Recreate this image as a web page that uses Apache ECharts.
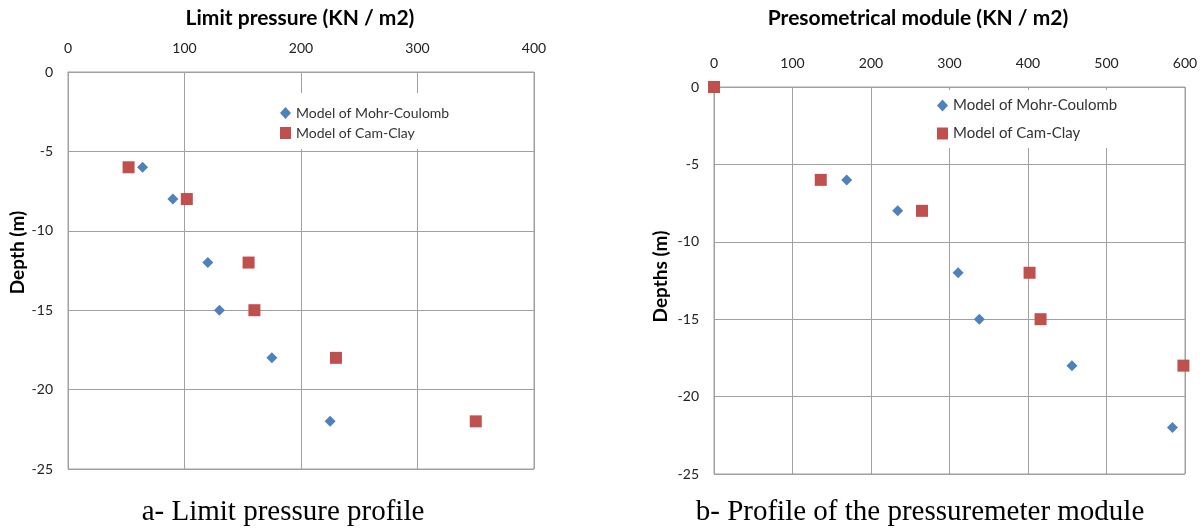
<!DOCTYPE html>
<html>
<head>
<meta charset="utf-8">
<script src="https://cdn.jsdelivr.net/npm/echarts@6/dist/echarts.min.js"></script>
<style>
  html, body { margin: 0; padding: 0; background: #fff; }
  #chart { width: 1203px; height: 529px; }
</style>
</head>
<body>
<div id="chart"></div>
<script>
  // depths (m) and values
  const depthsMohr = [-6, -8, -12, -15, -18, -22]
  const limitMohr = [64, 90, 120, 130, 175, 225]
  const depthsCamLimit = [-6, -8, -12, -15, -18, -22]
  const limitCam = [52, 102, 155, 160, 230, 350]

  const moduleMohr = [169, 234, 311, 338, 456, 584]
  const depthsCamModule = [0, -6, -8, -12, -15, -18]
  const moduleCam = [0, 136, 265, 402, 416, 598]

  const seriesNames = ['Model of Mohr-Coulomb', 'Model of Cam-Clay']
  const titles = ['Limit pressure (KN / m2)', 'Presometrical module (KN / m2)']
  const captions = ['a- Limit pressure profile', 'b- Profile of the pressuremeter module']
  const yNames = ['Depth (m)', 'Depths (m)']

  const blue = '#4f81bd'
  const red = '#c0504d'
  const gridColor = '#a0a0a0'
  const font = 'Lato, "Open Sans", sans-serif'

  function pairs(xs, ys) {
    return xs.map((x, i) => [x, ys[i]])
  }

  function xAxis(idx, max) {
    return {
      gridIndex: idx, type: 'value', position: 'top', min: 0, max: max, interval: 100,
      axisLine: { show: true, lineStyle: { color: gridColor } },
      axisTick: { show: true, inside: true, length: 5, lineStyle: { color: gridColor } },
      axisLabel: { color: '#222', fontFamily: font, fontSize: 14, lineHeight: 14, margin: 17 },
      splitLine: { show: true, lineStyle: { color: gridColor } }
    }
  }

  function yAxis(idx, name, gap, pad) {
    return {
      gridIndex: idx, type: 'value', min: -25, max: 0, interval: 5,
      name: name, nameLocation: 'middle', nameRotate: 90, nameGap: gap,
      nameTextStyle: { color: '#000', fontFamily: font, fontWeight: 'bold', fontSize: 19, padding: pad },
      axisLine: { show: true, lineStyle: { color: gridColor } },
      axisTick: { show: false },
      axisLabel: { color: '#222', fontFamily: font, fontSize: 14, margin: 15 },
      splitLine: { show: true, lineStyle: { color: gridColor } }
    }
  }

  function legend(idx, left, top, gap, pad, size) {
    return {
      orient: 'vertical', left: left, top: top, itemGap: gap, padding: pad,
      backgroundColor: '#fff', itemWidth: 11, itemHeight: 12,
      data: [
        { name: seriesNames[0] + (idx ? ' ' : ''), icon: 'diamond' },
        { name: seriesNames[1] + (idx ? ' ' : ''), icon: 'rect' }
      ],
      textStyle: { color: '#333', fontFamily: font, fontSize: size, lineHeight: 12 }
    }
  }

  function scatter(name, idx, data, symbol, size, color) {
    return {
      name: name, type: 'scatter', xAxisIndex: idx, yAxisIndex: idx,
      symbol: symbol, symbolSize: size, clip: false, data: data,
      itemStyle: { color: color, opacity: 1 }
    }
  }

  function label(text, x, y, f) {
    return {
      type: 'text', x: x, y: y,
      style: { text: text, fill: '#000', font: f, align: 'center', verticalAlign: 'middle', textAlign: 'center', textVerticalAlign: 'middle' }
    }
  }

  const option = {
    animation: false,
    grid: [
      { left: 68, top: 72, width: 466, height: 397, show: true, borderColor: gridColor, borderWidth: 1 },
      { left: 714, top: 87, width: 471, height: 387, show: true, borderColor: gridColor, borderWidth: 1 }
    ],
    xAxis: [xAxis(0, 400), xAxis(1, 600)],
    yAxis: [yAxis(0, yNames[0], 38, [0, 0, 0, 36]), yAxis(1, yNames[1], 44, [0, 0, 0, 8])],
    legend: [
      legend(0, 275, 93, 6, [13, 6, 9, 5], 14),
      legend(1, 932, 90, 13, [8, 6, 7, 5], 15)
    ],
    series: [
      scatter(seriesNames[0], 0, pairs(limitMohr, depthsMohr), 'diamond', 11, blue),
      scatter(seriesNames[1], 0, pairs(limitCam, depthsCamLimit), 'rect', 12, red),
      scatter(seriesNames[0] + ' ', 1, pairs(moduleMohr, depthsMohr), 'diamond', 11, blue),
      scatter(seriesNames[1] + ' ', 1, pairs(moduleCam, depthsCamModule), 'rect', 12, red)
    ],
    graphic: [
      label(titles[0], 300, 18, 'bold 21px ' + font),
      label(titles[1], 918, 18, 'bold 21px ' + font),
      label(captions[0], 283, 512, '29px "Liberation Serif", serif'),
      label(captions[1], 920, 512, '29px "Liberation Serif", serif')
    ]
  }

  const myChart = echarts.init(document.getElementById('chart'))
  myChart.setOption(option)
</script>
</body>
</html>
